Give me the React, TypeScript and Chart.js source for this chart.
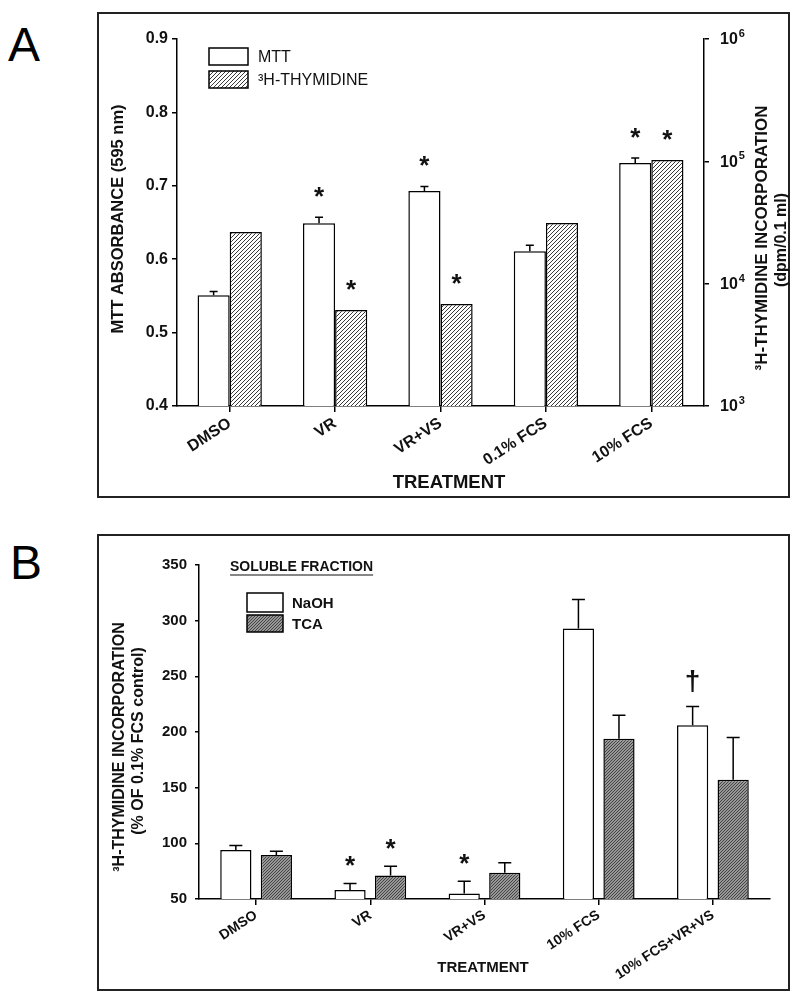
import React, { useEffect, useRef } from 'react';
import { Chart, registerables } from 'chart.js';

Chart.register(...registerables);

const FAM = '"Liberation Sans", Arial, Helvetica, sans-serif';
const INK = '#111111';

// ---------- Panel A data ----------
const categoriesA = ['DMSO', 'VR', 'VR+VS', '0.1% FCS', '10% FCS'];
const mttValues = [0.551, 0.649, 0.693, 0.611, 0.731];
const mttErrors = [0.005, 0.008, 0.006, 0.008, 0.007];
const mttMarks = ['', '*', '*', '', '*'];
const thymidineValues = [26500, 6100, 6830, 31400, 102600];
const thymidineMarks = ['', '*', '*', '', '*'];
const mttTicks = [0.4, 0.5, 0.6, 0.7, 0.8, 0.9];
const thymidineTicks = [1000, 10000, 100000, 1000000];
const thymidineExponents = ['3', '4', '5', '6'];

// ---------- Panel B data ----------
const categoriesB = ['DMSO', 'VR', 'VR+VS', '10% FCS', '10% FCS+VR+VS'];
const naohValues = [94, 58, 55, 293, 206];
const naohErrors = [4, 6, 11, 26, 17];
const naohMarks = ['', '*', '*', '', '†'];
const tcaValues = [89.5, 71, 73.5, 194, 157];
const tcaErrors = [3.5, 8.5, 9, 21, 38];
const tcaMarks = ['', '*', '', '', ''];
const percentTicks = [50, 100, 150, 200, 250, 300, 350];

function makeHatch(bg: string, fg: string, s: number, lw: number) {
  const c = document.createElement('canvas');
  c.width = s;
  c.height = s;
  const g = c.getContext('2d')!;
  g.fillStyle = bg;
  g.fillRect(0, 0, s, s);
  g.strokeStyle = fg;
  g.lineWidth = lw;
  g.beginPath();
  for (const k of [0, s, 2 * s]) {
    g.moveTo(k + 1, -1);
    g.lineTo(k - s - 1, s + 1);
  }
  g.stroke();
  return g.createPattern(c, 'repeat')!;
}

type TextSpec = {
  text: string;
  x: number;
  y: number;
  size: number;
  weight?: string;
  rotate?: boolean;
  align?: CanvasTextAlign;
  underline?: boolean;
};

type LegendSpec = { datasetIndex: number; box: [number, number, number, number]; textX: number; size: number; weight: string };

type DecorCfg = {
  texts: TextSpec[];
  legend: LegendSpec[];
  capWidth: number;
  markOffset: number;
  powerAxis?: { id: string; values: number[]; exps: string[]; offset: number };
};

function makeDecor(cfg: DecorCfg) {
  return {
    id: 'decor',
    beforeDraw(chart: any) {
      const { ctx, width, height } = chart;
      ctx.save();
      ctx.fillStyle = '#ffffff';
      ctx.fillRect(0, 0, width, height);
      ctx.strokeStyle = '#222222';
      ctx.lineWidth = 2;
      ctx.strokeRect(1, 1, width - 2, height - 2);
      ctx.restore();
    },
    afterDatasetsDraw(chart: any) {
      const ctx = chart.ctx;
      ctx.save();
      ctx.strokeStyle = '#000';
      ctx.lineWidth = 1.5;
      ctx.fillStyle = INK;
      chart.data.datasets.forEach((ds: any, i: number) => {
        const meta = chart.getDatasetMeta(i);
        const yScale = chart.scales[meta.yAxisID];
        meta.data.forEach((el: any, j: number) => {
          const v = ds.data[j];
          const e = ds.errors ? ds.errors[j] : 0;
          let top = el.y;
          if (e) {
            const yE = yScale.getPixelForValue(v + e);
            ctx.beginPath();
            ctx.moveTo(el.x, el.y);
            ctx.lineTo(el.x, yE);
            ctx.moveTo(el.x - cfg.capWidth / 2, yE);
            ctx.lineTo(el.x + cfg.capWidth / 2, yE);
            ctx.stroke();
            top = yE;
          }
          const m = ds.marks ? ds.marks[j] : '';
          if (m) {
            const size = m === '*' ? 26 : 28;
            ctx.font = `bold ${size}px ${FAM}`;
            ctx.textAlign = 'center';
            ctx.textBaseline = 'alphabetic';
            const cy = top - cfg.markOffset;
            ctx.fillText(m, el.x, cy + (m === '*' ? 0.57 : 0.28) * size);
          }
        });
      });
      ctx.restore();
    },
    afterDraw(chart: any) {
      const ctx = chart.ctx;
      ctx.save();
      ctx.fillStyle = INK;
      for (const t of cfg.texts) {
        ctx.save();
        ctx.translate(t.x, t.y);
        if (t.rotate) ctx.rotate(-Math.PI / 2);
        ctx.font = `${t.weight || 'bold'} ${t.size}px ${FAM}`;
        ctx.textAlign = t.align || 'center';
        ctx.textBaseline = 'middle';
        ctx.fillText(t.text, 0, 0);
        if (t.underline) {
          const w = ctx.measureText(t.text).width;
          const x0 = t.align === 'left' ? 0 : -w / 2;
          ctx.strokeStyle = INK;
          ctx.lineWidth = 1.2;
          ctx.beginPath();
          ctx.moveTo(x0, t.size * 0.5 + 1);
          ctx.lineTo(x0 + w, t.size * 0.5 + 1);
          ctx.stroke();
        }
        ctx.restore();
      }
      for (const l of cfg.legend) {
        const ds = chart.data.datasets[l.datasetIndex];
        const [x, y, w, h] = l.box;
        ctx.fillStyle = ds.backgroundColor;
        ctx.fillRect(x, y, w, h);
        ctx.strokeStyle = '#000';
        ctx.lineWidth = 1.5;
        ctx.strokeRect(x, y, w, h);
        ctx.fillStyle = INK;
        ctx.font = `${l.weight} ${l.size}px ${FAM}`;
        ctx.textAlign = 'left';
        ctx.textBaseline = 'middle';
        ctx.fillText(ds.label, l.textX, y + h / 2 + 1);
      }
      if (cfg.powerAxis) {
        const p = cfg.powerAxis;
        const sc = chart.scales[p.id];
        p.values.forEach((v, i) => {
          const y = sc.getPixelForValue(v);
          const x = sc.left + p.offset;
          ctx.font = `bold 16px ${FAM}`;
          ctx.textAlign = 'left';
          ctx.textBaseline = 'middle';
          ctx.fillText('10', x, y + 1);
          const w = ctx.measureText('10').width;
          ctx.font = `bold 11px ${FAM}`;
          ctx.fillText(p.exps[i], x + w + 1, y - 5);
        });
      }
      ctx.restore();
    },
  };
}

const axisGrid = (tickLength: number) => ({
  display: true,
  drawOnChartArea: false,
  drawTicks: true,
  tickLength,
  color: '#000',
  lineWidth: 1.5,
});
const axisBorder = { display: true, color: '#000', width: 1.5 };

function buildA(): any {
  const hatch = makeHatch('#ffffff', '#3a3a3a', 4, 1);
  return {
    type: 'bar',
    data: {
      labels: categoriesA,
      datasets: [
        {
          label: 'MTT',
          data: mttValues,
          errors: mttErrors,
          marks: mttMarks,
          yAxisID: 'y',
          backgroundColor: '#ffffff',
          borderColor: '#000',
          borderWidth: 1.5,
          barPercentage: 1,
          categoryPercentage: 0.61,
        },
        {
          label: '³H-THYMIDINE',
          data: thymidineValues,
          marks: thymidineMarks,
          yAxisID: 'y1',
          backgroundColor: hatch,
          borderColor: '#000',
          borderWidth: 1.5,
          barPercentage: 1,
          categoryPercentage: 0.61,
        },
      ],
    },
    options: {
      responsive: false,
      maintainAspectRatio: false,
      animation: false,
      devicePixelRatio: 1,
      events: [],
      layout: { padding: { top: 27, left: 0, right: 0, bottom: 0 } },
      plugins: { legend: { display: false }, tooltip: { enabled: false } },
      scales: {
        x: {
          type: 'category',
          grid: { ...axisGrid(6), offset: false },
          border: axisBorder,
          ticks: {
            autoSkip: false,
            minRotation: 33,
            maxRotation: 33,
            padding: 2,
            color: INK,
            font: { family: FAM, size: 16, weight: 'bold' },
          },
          afterFit(s: any) {
            s.height = 92;
            s.paddingLeft = 0;
            s.paddingRight = 0;
          },
        },
        y: {
          type: 'linear',
          position: 'left',
          min: 0.4,
          max: 0.9,
          afterBuildTicks(s: any) {
            s.ticks = mttTicks.map((v) => ({ value: v }));
          },
          ticks: {
            padding: 4,
            color: INK,
            font: { family: FAM, size: 16, weight: 'bold' },
            callback: (v: any) => Number(v).toFixed(1),
          },
          grid: axisGrid(5),
          border: axisBorder,
          afterFit(s: any) {
            s.width = 80;
            s.paddingTop = 0;
            s.paddingBottom = 0;
          },
        },
        y1: {
          type: 'logarithmic',
          position: 'right',
          min: 1000,
          max: 1000000,
          afterBuildTicks(s: any) {
            s.ticks = thymidineTicks.map((v) => ({ value: v }));
          },
          ticks: { display: false },
          grid: axisGrid(5),
          border: axisBorder,
          afterFit(s: any) {
            s.width = 86;
            s.paddingTop = 0;
            s.paddingBottom = 0;
          },
        },
      },
    },
    plugins: [
      makeDecor({
        capWidth: 8,
        markOffset: 27,
        texts: [
          { text: 'MTT ABSORBANCE (595 nm)', x: 21, y: 207, size: 16.5, rotate: true },
          { text: '³H-THYMIDINE INCORPORATION', x: 665, y: 226, size: 17, rotate: true },
          { text: '(dpm/0.1 ml)', x: 685, y: 228, size: 16, rotate: true },
          { text: 'TREATMENT', x: 352, y: 471, size: 18.5 },
        ],
        legend: [
          { datasetIndex: 0, box: [112, 36, 39, 17], textX: 161, size: 16, weight: 'normal' },
          { datasetIndex: 1, box: [112, 59, 39, 17], textX: 161, size: 16, weight: 'normal' },
        ],
        powerAxis: { id: 'y1', values: thymidineTicks, exps: thymidineExponents, offset: 16 },
      }),
    ],
  };
}

function buildB(): any {
  const hatch = makeHatch('#979797', '#444444', 3, 1);
  return {
    type: 'bar',
    data: {
      labels: categoriesB,
      datasets: [
        {
          label: 'NaOH',
          data: naohValues,
          errors: naohErrors,
          marks: naohMarks,
          yAxisID: 'y',
          backgroundColor: '#ffffff',
          borderColor: '#000',
          borderWidth: 1.5,
          barPercentage: 0.77,
          categoryPercentage: 0.71,
        },
        {
          label: 'TCA',
          data: tcaValues,
          errors: tcaErrors,
          marks: tcaMarks,
          yAxisID: 'y',
          backgroundColor: hatch,
          borderColor: '#000',
          borderWidth: 1.5,
          barPercentage: 0.77,
          categoryPercentage: 0.71,
        },
      ],
    },
    options: {
      responsive: false,
      maintainAspectRatio: false,
      animation: false,
      devicePixelRatio: 1,
      events: [],
      layout: { padding: { top: 31, left: 0, right: 20, bottom: 0 } },
      plugins: { legend: { display: false }, tooltip: { enabled: false } },
      scales: {
        x: {
          type: 'category',
          grid: { ...axisGrid(6), offset: false },
          border: axisBorder,
          ticks: {
            autoSkip: false,
            minRotation: 33,
            maxRotation: 33,
            padding: 2,
            color: INK,
            font: { family: FAM, size: 14, weight: 'bold' },
          },
          afterFit(s: any) {
            s.height = 92;
            s.paddingLeft = 0;
            s.paddingRight = 0;
          },
        },
        y: {
          type: 'linear',
          position: 'left',
          min: 50,
          max: 350,
          afterBuildTicks(s: any) {
            s.ticks = percentTicks.map((v) => ({ value: v }));
          },
          ticks: {
            padding: 8,
            color: INK,
            font: { family: FAM, size: 15, weight: 'bold' },
          },
          grid: axisGrid(4),
          border: axisBorder,
          afterFit(s: any) {
            s.width = 102;
            s.paddingTop = 0;
            s.paddingBottom = 0;
          },
        },
      },
    },
    plugins: [
      makeDecor({
        capWidth: 13,
        markOffset: 24,
        texts: [
          { text: '³H-THYMIDINE INCORPORATION', x: 23, y: 213, size: 16, rotate: true },
          { text: '(% OF 0.1% FCS control)', x: 42, y: 207, size: 16, rotate: true },
          { text: 'TREATMENT', x: 386, y: 434, size: 15 },
          { text: 'SOLUBLE FRACTION', x: 133, y: 33, size: 14, align: 'left', underline: true },
        ],
        legend: [
          { datasetIndex: 0, box: [150, 59, 36, 19], textX: 195, size: 15, weight: 'bold' },
          { datasetIndex: 1, box: [150, 81, 36, 17], textX: 195, size: 15, weight: 'bold' },
        ],
      }),
    ],
  };
}

function ChartCanvas(props: { left: number; top: number; width: number; height: number; build: () => any }) {
  const ref = useRef<HTMLCanvasElement>(null);
  useEffect(() => {
    const chart = new Chart(ref.current as HTMLCanvasElement, props.build());
    return () => chart.destroy();
  }, []);
  return (
    <canvas
      ref={ref}
      width={props.width}
      height={props.height}
      style={{ position: 'absolute', left: props.left, top: props.top, width: props.width, height: props.height }}
    />
  );
}

const letterStyle: React.CSSProperties = {
  position: 'absolute',
  fontFamily: FAM,
  fontSize: 48,
  lineHeight: '48px',
  color: '#000',
};

export default function App() {
  return (
    <div style={{ position: 'absolute', left: 0, top: 0, width: 800, height: 996, background: '#fff', overflow: 'hidden' }}>
      <div style={{ ...letterStyle, left: 8, top: 21 }}>A</div>
      <div style={{ ...letterStyle, left: 10, top: 539 }}>B</div>
      <ChartCanvas left={97} top={12} width={693} height={486} build={buildA} />
      <ChartCanvas left={97} top={534} width={693} height={457} build={buildB} />
    </div>
  );
}
